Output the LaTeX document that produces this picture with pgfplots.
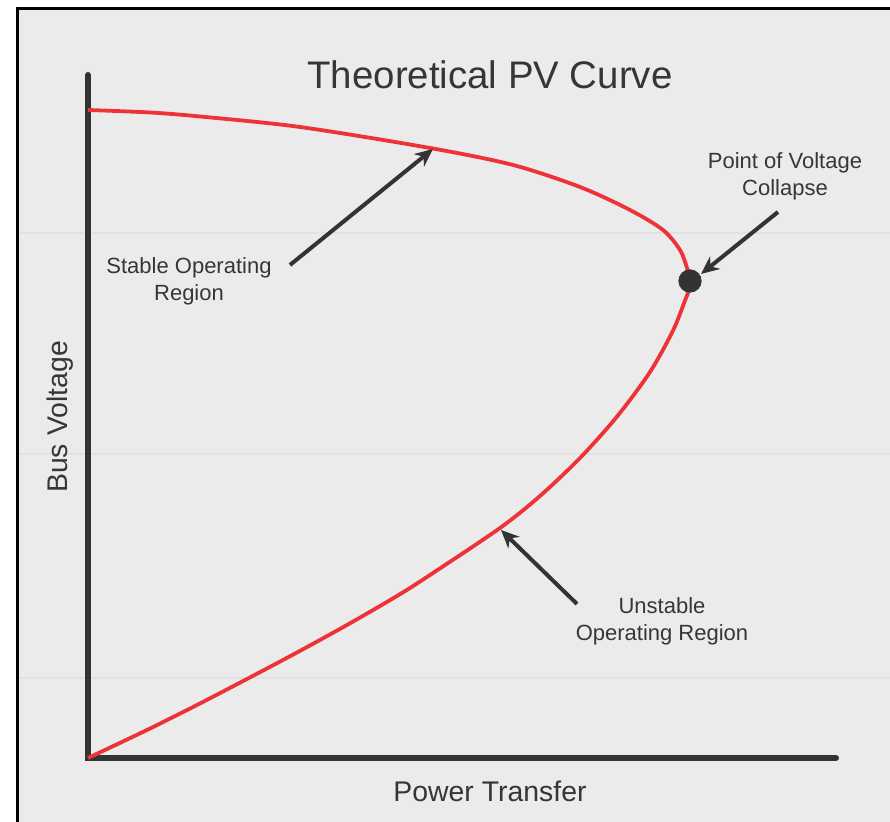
\documentclass[border=0pt]{standalone}
\usepackage{pgfplots}
\pgfplotsset{compat=1.18}
\usepackage{fontspec}
\setmainfont{Liberation Sans}
\usetikzlibrary{arrows.meta}
\definecolor{bgc}{HTML}{EBEBEB}
\definecolor{axc}{HTML}{333333}
\definecolor{txc}{HTML}{363636}
\definecolor{curvered}{HTML}{EE3338}
\definecolor{gridc}{HTML}{E2E2E2}
\pgfplotstableread{
x y
0 648
62 645.5
112 641.5
212 631
342 610
425 593
492 571
542 548
575 528
592 508
599 490
602 477
600.5 467
597 457.4
585 427.4
562 386
529 341.4
492 300
452 262
412 230
342 183
309 162
259 133
209 105.5
159 79
109 53
59 28
0 0
}\pvcurve
\begin{document}
\begin{tikzpicture}
\begin{axis}[
  scale only axis,
  width=445pt, height=411pt,
  xmin=-88, xmax=802, ymin=-64, ymax=758,
  axis lines=none, xtick=\empty, ytick=\empty,
  clip=false,
]
% background panel
\fill[bgc] (axis cs:-72,-64) rectangle (axis cs:802,751);
\draw[black, line width=1.6pt] (axis cs:-70.5,-64) -- (axis cs:-70.5,749.5) -- (axis cs:802,749.5);
% faint grid lines
\draw[gridc, line width=0.6pt] (axis cs:-69,525) -- (axis cs:802,525);
\draw[gridc, line width=0.6pt] (axis cs:-69,304) -- (axis cs:802,304);
\draw[gridc, line width=0.6pt] (axis cs:-69,80) -- (axis cs:802,80);
% axes
\draw[axc, line width=3pt, line cap=round] (axis cs:0,683) -- (axis cs:0,0) -- (axis cs:748,0);
% curve
\addplot[curvered, line width=1.9pt, smooth, tension=0.5] table[x=x,y=y] {\pvcurve};
% collapse point
\addplot[only marks, mark=*, mark size=5.6pt, mark options={fill=axc, draw=axc}] coordinates {(602,477)};
% arrows
\draw[axc, line width=2pt, -{Stealth[length=9pt,width=8pt]}] (axis cs:202,493) -- (axis cs:345,609);
\draw[axc, line width=2pt, -{Stealth[length=9pt,width=8pt]}] (axis cs:690,546) -- (axis cs:613,484);
\draw[axc, line width=2pt, -{Stealth[length=9pt,width=8pt]}] (axis cs:489,154) -- (axis cs:413,228);
% texts
\node[txc, font=\fontsize{19.2pt}{23pt}\selectfont] at (axis cs:402,683) {Theoretical PV Curve};
\node[txc, font=\fontsize{14.2pt}{17pt}\selectfont] at (axis cs:402,-33) {Power Transfer};
\node[txc, font=\fontsize{14.2pt}{17pt}\selectfont, rotate=90] at (axis cs:-28,341) {Bus Voltage};
\node[txc, font=\fontsize{11pt}{13.5pt}\selectfont, align=center] at (axis cs:101,477) {Stable Operating\\Region};
\node[txc, font=\fontsize{11pt}{13.5pt}\selectfont, align=center] at (axis cs:697,582) {Point of Voltage\\Collapse};
\node[txc, font=\fontsize{11pt}{13.5pt}\selectfont, align=center] at (axis cs:574,137) {Unstable\\Operating Region};
\end{axis}
\pgfresetboundingbox
\useasboundingbox (current axis.south west) rectangle (current axis.north east);
\end{tikzpicture}
\end{document}
